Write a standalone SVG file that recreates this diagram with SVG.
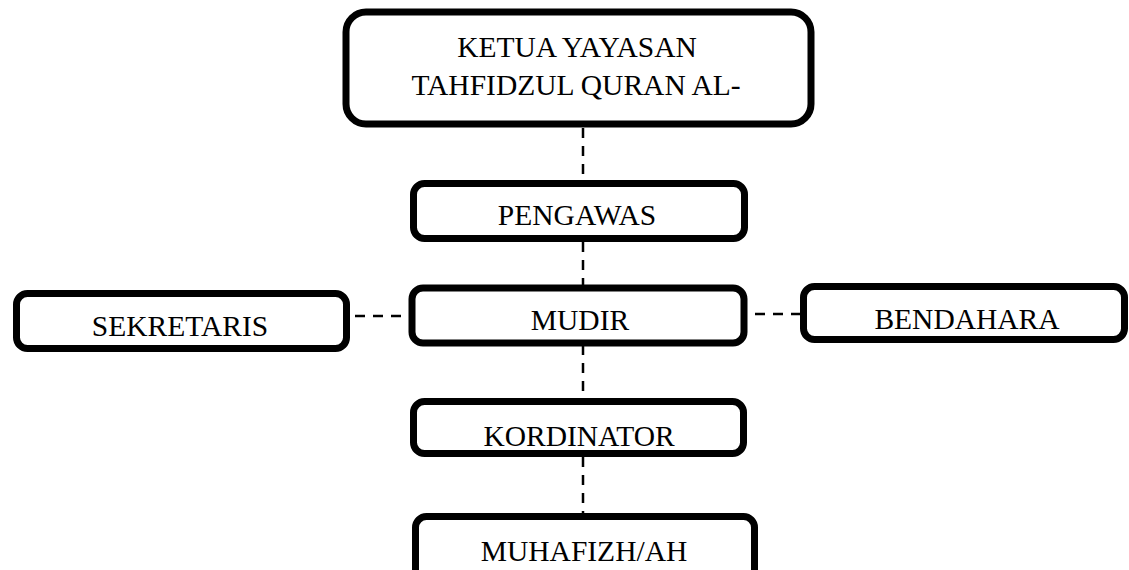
<svg xmlns="http://www.w3.org/2000/svg" width="1129" height="570" viewBox="0 0 1129 570">
<style>
.box{fill:#fff;stroke:#000;stroke-width:7}
.t{font-family:"Liberation Serif","Times New Roman",serif;font-size:29.5px;fill:#000;text-anchor:middle}
.c{stroke:#000;stroke-width:2.5;stroke-dasharray:10 8;fill:none}
</style>
<defs>
<clipPath id="clipBottom"><rect x="0" y="0" width="1129" height="563"/></clipPath>
</defs>
<rect width="1129" height="570" fill="#fff"/>
<g id="connectors">
<line class="c" x1="583" y1="128" x2="583" y2="180"/>
<line class="c" x1="583" y1="242" x2="583" y2="285"/>
<line class="c" x1="583" y1="345" x2="583" y2="398"/>
<line class="c" x1="583" y1="457" x2="583" y2="513"/>
<line class="c" x1="355" y1="316" x2="408" y2="316"/>
<line class="c" x1="755" y1="314" x2="800" y2="314"/>
</g>
<g id="ketua">
<rect class="box" x="346" y="12" width="465" height="112" rx="20"/>
<text class="t" x="577" y="57">KETUA YAYASAN</text>
<text class="t" x="576" y="95">TAHFIDZUL QURAN AL-</text>
</g>
<g id="pengawas">
<rect class="box" x="413.5" y="183.5" width="331" height="55" rx="11"/>
<text class="t" x="577" y="225">PENGAWAS</text>
</g>
<g id="mudir">
<rect class="box" x="412" y="288" width="332" height="55" rx="11"/>
<text class="t" x="580" y="330">MUDIR</text>
</g>
<g id="sekretaris">
<rect class="box" x="16.5" y="293.5" width="330" height="55" rx="11"/>
<text class="t" x="180" y="336">SEKRETARIS</text>
</g>
<g id="bendahara">
<rect class="box" x="803.5" y="286.5" width="321" height="53" rx="11"/>
<text class="t" x="967" y="329">BENDAHARA</text>
</g>
<g id="kordinator">
<rect class="box" x="413.5" y="401.5" width="330" height="52" rx="11"/>
<text class="t" x="579" y="446">KORDINATOR</text>
</g>
<g id="muhafizh">
<rect class="box" x="415.5" y="516.5" width="339" height="70" rx="11"/>
<text class="t" x="584" y="561" clip-path="url(#clipBottom)">MUHAFIZH/AH</text>
</g>
</svg>
